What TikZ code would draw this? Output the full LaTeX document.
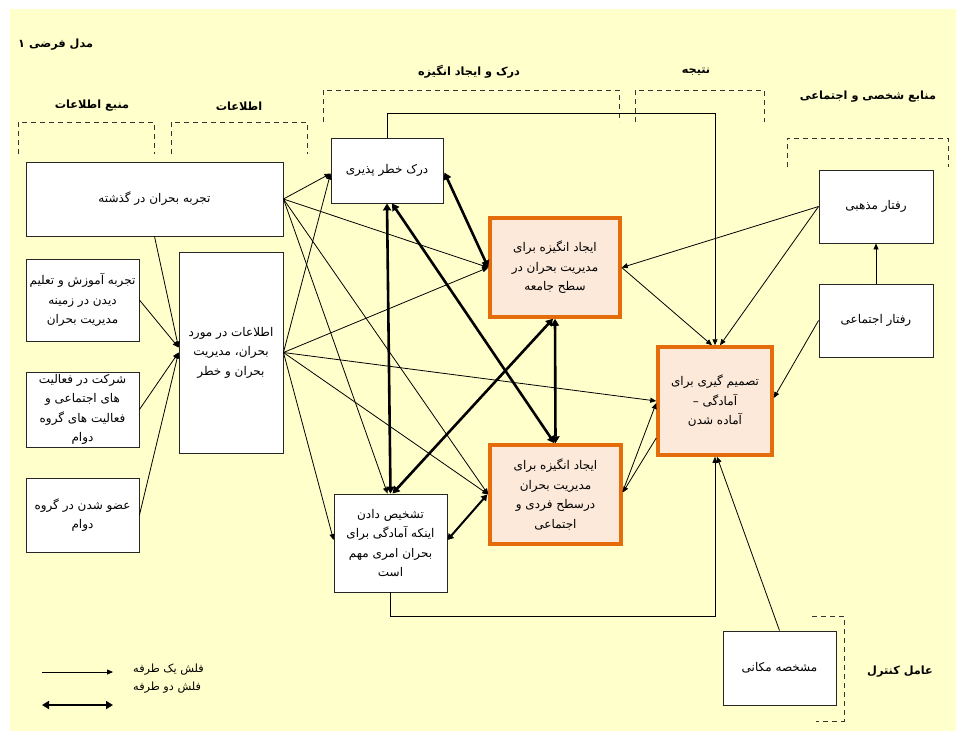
\documentclass[tikz,border=0pt]{standalone}
\usepackage{fontspec}
\newfontfamily\arabicfont[Script=Arabic]{DejaVu Sans}
\TeXXeTstate=1
\usetikzlibrary{arrows.meta,calc}
% one right-to-left line of Persian text
\newcommand\prs[1]{\beginR #1\endR}
\definecolor{paper}{HTML}{FFFFCC}
\definecolor{hiline}{HTML}{E46C0A}
\definecolor{hifill}{HTML}{FDE9D9}
\tikzset{
  box/.style={draw=black!85, line width=0.9pt, fill=white, inner sep=0pt, align=center,
    font=\arabicfont\fontsize{12}{19.5}\selectfont},
  hibox/.style={box, draw=hiline, line width=3.5pt, fill=hifill},
  one/.style={line width=0.8pt, -{Triangle[length=6pt,width=5pt]}},
  two/.style={line width=2.6pt, {Triangle[length=7pt,width=8pt]}-{Triangle[length=7pt,width=8pt]}},
  twomid/.style={line width=2pt, {Triangle[length=6pt,width=7pt]}-{Triangle[length=6pt,width=7pt]}},
  bracket/.style={dash pattern=on 5pt off 4pt, line width=0.9pt, draw=black!80},
  head/.style={font=\arabicfont\bfseries\fontsize{11.3}{13}\selectfont, inner sep=0pt},
  legend/.style={font=\arabicfont\fontsize{11.3}{13}\selectfont, inner sep=0pt, anchor=west}
}
\begin{document}
\begin{tikzpicture}[x=1pt,y=-1pt]
\useasboundingbox (0,0) rectangle (957,732);
\fill[paper] (10,9) rectangle (956,731);

% group headings
\node[head, anchor=west] (title) at (18,45) {\prs{مدل فرضی ۱}};
\node[head] (hsrc) at (92,106) {\prs{منبع اطلاعات}};
\node[head] (hinfo) at (239,106) {\prs{اطلاعات}};
\node[head] (hmot) at (469,72) {\prs{درک و ایجاد انگیزه}};
\node[head] (hres) at (696,72) {\prs{نتیجه}};
\node[head] (hpers) at (868,97) {\prs{منابع شخصی و اجتماعی}};
\node[head] (hctrl) at (900,672) {\prs{عامل کنترل}};

% dashed group brackets
\draw[bracket] (18,154) -- (18,122) -- (154,122) -- (154,154);
\draw[bracket] (171,154) -- (171,122) -- (307,122) -- (307,154);
\draw[bracket] (323,122) -- (323,90) -- (619,90) -- (619,122);
\draw[bracket] (635,122) -- (635,90) -- (764,90) -- (764,122);
\draw[bracket] (787,167) -- (787,138) -- (948,138) -- (948,167);
\draw[bracket] (812,616) -- (844,616) -- (844,721) -- (816,721);

% boxes
\node[box, minimum width=257pt, minimum height=74pt] (past) at (154.5,199)
  {\prs{تجربه بحران در گذشته}};
\node[box, minimum width=113pt, minimum height=82pt] (train) at (82.5,300)
  {\prs{تجربه آموزش و تعلیم}\\\prs{دیدن در زمینه}\\\prs{مدیریت بحران}};
\node[box, minimum width=113pt, minimum height=75pt] (part) at (82.5,409.5)
  {\prs{شرکت در فعالیت}\\\prs{های اجتماعی و}\\\prs{فعالیت های گروه}\\\prs{دوام}};
\node[box, minimum width=113pt, minimum height=74pt] (memb) at (82.5,515)
  {\prs{عضو شدن در گروه}\\\prs{دوام}};
\node[box, minimum width=104pt, minimum height=201pt] (info) at (231,352.5)
  {\prs{اطلاعات در مورد}\\\prs{بحران، مدیریت}\\\prs{بحران و خطر}};
\node[box, minimum width=112pt, minimum height=65pt] (perc) at (387,170.5)
  {\prs{درک خطر پذیری}};
\node[hibox, minimum width=130pt, minimum height=99pt] (mcom) at (555,267.5)
  {\prs{ایجاد انگیزه برای}\\\prs{مدیریت بحران در}\\\prs{سطح جامعه}};
\node[hibox, minimum width=131pt, minimum height=99pt] (mind) at (555.5,494.5)
  {\prs{ایجاد انگیزه برای}\\\prs{مدیریت بحران}\\\prs{درسطح فردی و}\\\prs{اجتماعی}};
\node[box, minimum width=113pt, minimum height=98pt] (recog) at (390.5,543)
  {\prs{تشخیص دادن}\\\prs{اینکه آمادگی برای}\\\prs{بحران امری مهم}\\\prs{است}};
\node[hibox, minimum width=114pt, minimum height=108pt] (dec) at (715,401)
  {\prs{تصمیم گیری برای}\\\prs{آمادگی –}\\\prs{آماده شدن}};
\node[box, minimum width=114pt, minimum height=73pt] (relig) at (876,206.5)
  {\prs{رفتار مذهبی}};
\node[box, minimum width=114pt, minimum height=73pt] (soc) at (876,320.5)
  {\prs{رفتار اجتماعی}};
\node[box, minimum width=113pt, minimum height=74pt] (loc) at (779.5,668)
  {\prs{مشخصه مکانی}};

% one-way links
\draw[one] (past.east) -- ($(perc.west)+(0,3)$);
\draw[one] (past.east) -- (mcom.west);
\draw[one] (past.east) -- ($(recog.north)+(-3,0)$);
\draw[one] (past.east) -- (mind.west);
\draw[one] (past.south) -- ($(info.west)+(0,-5)$);
\draw[one] (train.east) -- ($(info.west)+(0,-5)$);
\draw[one] (part.east) -- (info.west);
\draw[one] (memb.east) -- (info.west);
\draw[one] (info.east) -- ($(perc.west)+(0,3)$);
\draw[one] (info.east) -- (mcom.west);
\draw[one] (info.east) -- (dec.west);
\draw[one] (info.east) -- (mind.west);
\draw[one] (info.east) -- ($(recog.west)+(0,-3)$);
\draw[one] (relig.west) -- (mcom.east);
\draw[one] (relig.west) -- ($(dec.north)+(5,0)$);
\draw[one] (mcom.east) -- ($(dec.north)+(-3,0)$);
\draw[one] (soc.north) -- (relig.south);
\draw[one] (soc.west) -- ($(dec.east)+(0,-3)$);
\draw[one] ($(mind.east)+(0,-3)$) -- ($(dec.west)+(0,2)$);
\draw[one] ($(dec.west)+(0,37)$) -- ($(mind.east)+(0,-2)$);
\draw[one] (loc.north) -- ($(dec.south)+(2,0)$);
\draw[one] (perc.north) -- ++(0,-24) -| (dec.north);
\draw[one] (recog.south) -- ++(0,24) -| (dec.south);

% two-way links
\draw[two] (perc.south) -- (recog.north);
\draw[two] ($(perc.south)+(5,0)$) -- ($(mind.north)+(-1,0)$);
\draw[two] ($(perc.east)+(1,2)$) -- (mcom.west);
\draw[two] (mcom.south) -- (mind.north);
\draw[two] ($(mcom.south)+(-2,0)$) -- ($(recog.north)+(2,0)$);
\draw[twomid] ($(recog.east)+(0,-3)$) -- ($(mind.west)+(-1,0)$);

% legend
\coordinate (la) at (42,672);
\coordinate (lb) at (113,672);
\coordinate (lc) at (42,705);
\coordinate (ld) at (113,705);
\draw[one] (la) -- (lb);
\draw[two] (lc) -- (ld);
\node[legend] (lone) at (133,670) {\prs{فلش یک طرفه}};
\node[legend] (ltwo) at (133,688) {\prs{فلش دو طرفه}};
\end{tikzpicture}
\end{document}
